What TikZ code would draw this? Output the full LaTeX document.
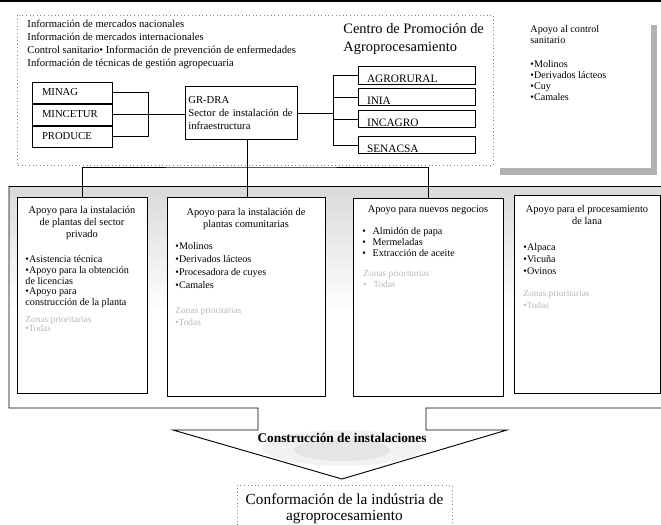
\documentclass[tikz,border=0pt]{standalone}
\usepackage{fontspec}
\setmainfont{Liberation Serif}
\usetikzlibrary{calc, positioning, patterns}

\begin{document}
\begin{tikzpicture}[x=0.75pt, y=-0.75pt, line width=0.7pt,
  orgbox/.style={draw, fill=white, inner xsep=7.5pt, inner ysep=0pt, text width=45pt,
    minimum height=15.75pt, align=left, font=\fontsize{8}{9.5}\selectfont},
  unitbox/.style={draw, fill=white, inner xsep=6.75pt, inner ysep=0.5pt, text width=74.25pt,
    text height=11.5pt, text depth=0.5pt, align=left, font=\fontsize{8.5}{10}\selectfont},
  panel/.style={draw, fill=white, inner sep=0pt},
  ttl/.style={anchor=north, align=center, inner sep=0pt, font=\fontsize{7.8}{9}\selectfont},
  lst/.style={anchor=north west, align=left, inner sep=0pt, font=\fontsize{7.6}{#1}\selectfont},
  lst/.default=9pt,
  zona/.style={anchor=north west, align=left, inner sep=0pt, text=gray!55,
    font=\fontsize{7}{#1}\selectfont},
  zona/.default=8.25pt]
  \useasboundingbox (0,0) rectangle (661,525);
  \draw[line width=1.5pt] (0,1) -- (661,1);

  % upper block: agencies
  \draw[gray, dotted] (17,15) rectangle (493,165);
  \node[anchor=north west, align=left, inner sep=0pt, font=\fontsize{8}{9.75}\selectfont] (info) at (27,20)
    {Información de mercados nacionales\\Información de mercados internacionales\\
     Control sanitario• Información de prevención de enfermedades\\
     Información de técnicas de gestión agropecuaria};
  \node[anchor=north west, align=left, inner sep=0pt, font=\fontsize{10.8}{13.5}\selectfont] (centro) at (343,23.3)
    {Centro de Promoción de\\Agroprocesamiento};
  \node[orgbox] (minag) at (72,92.5) {MINAG};
  \node[orgbox] (mincetur) at (72,114.5) {MINCETUR};
  \node[orgbox] (produce) at (72,136.5) {PRODUCE};
  \node[orgbox, text width=79pt, inner xsep=2.5pt, minimum height=39.75pt] (grdra) at (241,113)
    {GR-DRA\\Sector de instalación de\\infraestructura};
  \node[unitbox] (agro) at (416.5,75.5) {AGRORURAL};
  \node[unitbox] (inia) at (416.5,97) {INIA};
  \node[unitbox] (incagro) at (416.5,119) {INCAGRO};
  \node[unitbox] (senacsa) at (416.5,145) {SENACSA};
  \coordinate (bus) at (333,0);
  \draw (minag.east) -- ++(36,0) |- (produce.east);
  \draw (mincetur.east) -- (mincetur.east -| grdra.west);
  \draw (grdra.east) -- (grdra.east -| bus);
  \draw (agro.west) -- (agro.west -| bus) |- (senacsa.west);
  \draw (inia.west) -- (inia.west -| bus);
  \draw (incagro.west) -- (incagro.west -| bus);

  % side note with stippled edge
  \fill[gray!60] (651,25) rectangle (657,175);
  \fill[gray!60] (500,168) rectangle (657,175);
  \node[lst=8.25pt] (sanit) at (530,25.3)
    {Apoyo al control\\sanitario\\[9.75pt]•Molinos\\•Derivados lácteos\\•Cuy\\•Camales};

  % big arrow frame, stipple fading downwards
  \foreach \k in {0,...,9}{
    \pgfmathsetmacro\tone{28-2.8*\k}
    \fill[gray!\tone] (9,{186+12*\k}) rectangle (661,{198+12*\k});
  }
  \fill[gray!10] (342,448) ellipse[x radius=80, y radius=18];
  \fill[gray!20] (342,450) ellipse[x radius=48, y radius=11];
  \draw (9,186) -- (9,408) -- (258,408) -- (258,430) -- (173,430) -- (342,479) -- (507,430)
    -- (426,430) -- (426,408) -- (661,408);
  \draw (661,186) -- (9,186);

  % support lines
  \node[panel, minimum width=97.5pt, minimum height=147pt] (privado) at (82,295) {};
  \node[panel, minimum width=118.5pt, minimum height=149.25pt] (comunal) at (246,296.5) {};
  \node[panel, minimum width=112.5pt, minimum height=148.5pt] (negocios) at (428,297) {};
  \node[panel, minimum width=109.5pt, minimum height=148.5pt] (lana) at (587,294) {};
  \coordinate (hub) at (247,167);
  \draw (privado.north) |- (hub) -| (negocios.north);
  \draw ($(grdra.south)+(6,0)$) coordinate (gs) -- (gs |- comunal.north);

  \node[ttl] (privado-t) at (82,205.3) {Apoyo para la instalación\\de plantas del sector\\privado};
  \node[lst=8pt] (privado-l) at (25,255.3)
    {•Asistencia técnica\\•Apoyo para la obtención\\de licencias\\•Apoyo para\\construcción de la planta};
  \node[zona=6.75pt] (privado-z) at (25,315.7) {Zonas prioritarias\\•Todas};

  \node[ttl] (comunal-t) at (246,207.3) {Apoyo para la instalación de\\plantas comunitarias};
  \node[lst=9.75pt] (comunal-l) at (175,242.3)
    {•Molinos\\•Derivados lácteos\\•Procesadora de cuyes\\•Camales};
  \node[zona=9pt] (comunal-z) at (175,306.7) {Zonas prioritarias\\•Todas};

  \node[ttl] (negocios-t) at (428,205.3) {Apoyo para nuevos negocios};
  \node[lst=8.25pt] (negocios-l) at (362,227.3)
    {•\hspace{5pt}Almidón de papa\\•\hspace{5pt}Mermeladas\\•\hspace{5pt}Extracción de aceite};
  \node[zona] (negocios-z) at (363,269.7) {Zonas prioritarias\\•\hspace{5pt}Todas};

  \node[ttl] (lana-t) at (587,205.3) {Apoyo para el procesamiento\\de lana};
  \node[lst] (lana-l) at (523,243.3) {•Alpaca\\•Vicuña\\•Ovinos};
  \node[zona=9pt] (lana-z) at (523,289.7) {Zonas prioritarias\\•Todas};

  % result
  \node[font=\bfseries\fontsize{10}{12}\selectfont, inner sep=0pt] (constr) at (342,438)
    {Construcción de instalaciones};
  \node[draw, gray, dotted, text=black, minimum width=161.25pt, minimum height=34.5pt, align=center,
    font=\fontsize{11.5}{12}\selectfont, anchor=north] (res) at (344.5,485)
    {Conformación de la indústria de\\agroprocesamiento};
\end{tikzpicture}
\end{document}
